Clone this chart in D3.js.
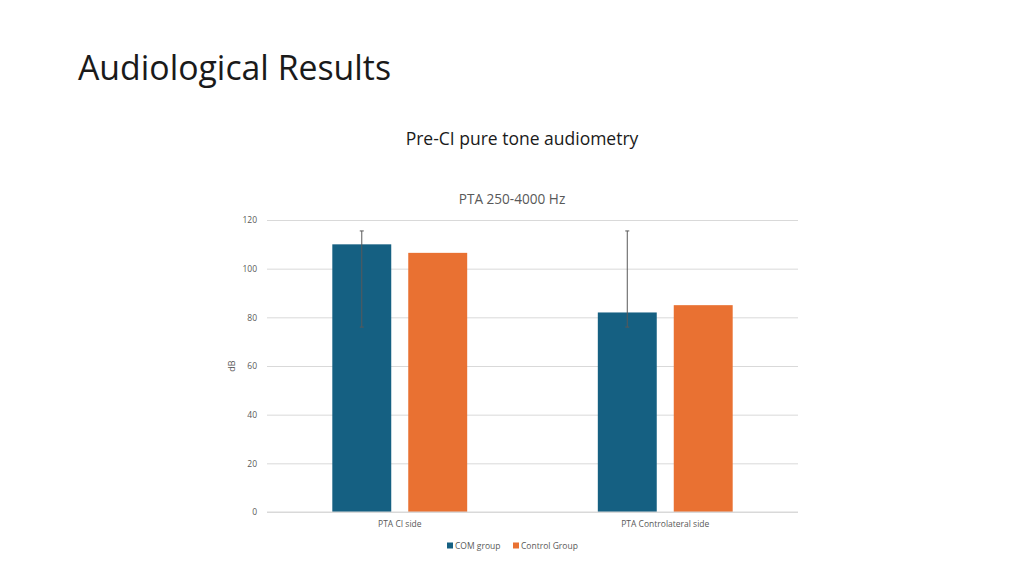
<!DOCTYPE html>
<html>
<head>
<meta charset="utf-8">
<script src="https://cdn.jsdelivr.net/npm/d3@7"></script>
<style>
  body { margin: 0; background: #fff; }
  svg { display: block; font-family: "Open Sans", "Noto Sans", sans-serif; }
</style>
</head>
<body>
<svg width="1024" height="576"></svg>
<script>
const categories = ["PTA CI side", "PTA Controlateral side"];
const seriesNames = ["COM group", "Control Group"];
const comValues = [110, 82];
const controlValues = [106.5, 85];
const comErrLow = [76, 76];
const comErrHigh = [115.5, 115.5];
const yTicks = [0, 20, 40, 60, 80, 100, 120];
const colors = ["#156082", "#E97132"];

const svg = d3.select("svg");
const plot = { left: 267, right: 798, top: 220, bottom: 512 };

svg.append("text")
  .attr("x", 78).attr("y", 80)
  .attr("font-size", "33.8px").attr("fill", "#1a1a1a")
  .text("Audiological Results");

svg.append("text")
  .attr("x", 522).attr("y", 145)
  .attr("text-anchor", "middle")
  .attr("font-size", "17.5px").attr("fill", "#1a1a1a")
  .text("Pre-CI pure tone audiometry");

svg.append("text")
  .attr("x", 512).attr("y", 204)
  .attr("text-anchor", "middle")
  .attr("font-size", "13.6px").attr("fill", "#595959")
  .text("PTA 250-4000 Hz");

const y = d3.scaleLinear().domain([0, 120]).range([plot.bottom, plot.top]);
const x0 = d3.scaleBand().domain(categories).range([plot.left, plot.right]).paddingInner(0).paddingOuter(0);
const x1 = d3.scaleBand().domain(seriesNames).range([0, x0.bandwidth()]).paddingInner(0.224).paddingOuter(0.86);

// gridlines
const yAxis = d3.axisLeft(y).tickValues(yTicks).tickSize(-(plot.right - plot.left)).tickPadding(10);
const gy = svg.append("g").attr("transform", `translate(${plot.left},0)`).call(yAxis);
gy.select(".domain").remove();
gy.selectAll(".tick line").attr("stroke", "#d9d9d9").attr("stroke-width", 1);
gy.selectAll(".tick text").attr("fill", "#595959").attr("font-size", "8.5px")
  .attr("font-family", "Open Sans, sans-serif");

svg.append("text")
  .attr("transform", `translate(235,${y(60)}) rotate(-90)`)
  .attr("text-anchor", "middle")
  .attr("font-size", "9px").attr("fill", "#595959")
  .text("dB");

const data = categories.map((c, i) => ({
  cat: c,
  values: [
    { s: seriesNames[0], v: comValues[i], lo: comErrLow[i], hi: comErrHigh[i] },
    { s: seriesNames[1], v: controlValues[i] }
  ]
}));

const groups = svg.append("g").selectAll("g").data(data).join("g")
  .attr("transform", d => `translate(${x0(d.cat)},0)`);

groups.selectAll("rect").data(d => d.values).join("rect")
  .attr("x", d => x1(d.s))
  .attr("width", x1.bandwidth())
  .attr("y", d => y(d.v))
  .attr("height", d => y(0) - y(d.v))
  .attr("fill", (d, i) => colors[i]);

// error bars on COM group
const err = groups.selectAll("g.err").data(d => d.values.filter(v => v.hi !== undefined)).join("g").attr("class", "err");
err.append("line")
  .attr("x1", d => x1(d.s) + x1.bandwidth() / 2)
  .attr("x2", d => x1(d.s) + x1.bandwidth() / 2)
  .attr("y1", d => y(d.lo)).attr("y2", d => y(d.hi))
  .attr("stroke", "#595959").attr("stroke-width", 1);
err.append("line")
  .attr("x1", d => x1(d.s) + x1.bandwidth() / 2 - 2)
  .attr("x2", d => x1(d.s) + x1.bandwidth() / 2 + 2)
  .attr("y1", d => y(d.hi)).attr("y2", d => y(d.hi))
  .attr("stroke", "#595959").attr("stroke-width", 1);
err.append("line")
  .attr("x1", d => x1(d.s) + x1.bandwidth() / 2 - 2)
  .attr("x2", d => x1(d.s) + x1.bandwidth() / 2 + 2)
  .attr("y1", d => y(d.lo)).attr("y2", d => y(d.lo))
  .attr("stroke", "#595959").attr("stroke-width", 1);

// baseline
svg.append("line")
  .attr("x1", plot.left).attr("x2", plot.right)
  .attr("y1", y(0)).attr("y2", y(0))
  .attr("stroke", "#d9d9d9");

// category labels
const xAxis = d3.axisBottom(x0).tickSize(0).tickPadding(9);
const gx = svg.append("g").attr("transform", `translate(0,${plot.bottom})`).call(xAxis);
gx.select(".domain").remove();
gx.selectAll(".tick text").attr("fill", "#595959").attr("font-size", "8.5px")
  .attr("font-family", "Open Sans, sans-serif");

// legend
const legend = svg.append("g").attr("transform", "translate(447,546)");
const legX = [0, 66];
seriesNames.forEach((s, i) => {
  legend.append("rect").attr("x", legX[i]).attr("y", -3.5).attr("width", 6).attr("height", 6).attr("fill", colors[i]);
  legend.append("text").attr("x", legX[i] + 8).attr("y", 3).attr("font-size", "8.5px").attr("fill", "#595959").text(s);
});
</script>
</body>
</html>
